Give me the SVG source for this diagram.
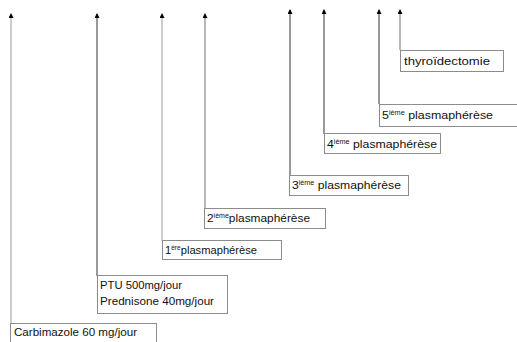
<svg xmlns="http://www.w3.org/2000/svg" width="517" height="342" viewBox="0 0 517 342">
<style>
.box{fill:#fff;stroke:#8c8c8c;stroke-width:1}
.t{font-family:"Liberation Sans",Arial,sans-serif;font-size:11px;fill:#111}
.s{font-size:6.5px}
.ln{stroke-width:1.2;fill:none}
</style>
<defs>
<marker id="ah" markerWidth="5" markerHeight="5" refX="4" refY="2.5" orient="auto" markerUnits="userSpaceOnUse" viewBox="0 0 5 5">
<path d="M0,0 L5,2.5 L0,5 Z" fill="#000"/>
</marker>
</defs>
<g id="connectors">
<line class="ln" x1="11" y1="342" x2="11" y2="14" stroke="#aaa" marker-end="url(#ah)"/>
<line class="ln" x1="97" y1="276" x2="97" y2="14" stroke="#555" marker-end="url(#ah)"/>
<line class="ln" x1="162" y1="241" x2="162" y2="14" stroke="#aaa" marker-end="url(#ah)"/>
<line class="ln" x1="205" y1="208" x2="205" y2="14" stroke="#888" marker-end="url(#ah)"/>
<line class="ln" x1="290" y1="175" x2="290" y2="10" stroke="#555" marker-end="url(#ah)"/>
<line class="ln" x1="324" y1="134" x2="324" y2="10" stroke="#555" marker-end="url(#ah)"/>
<line class="ln" x1="379" y1="104" x2="379" y2="10" stroke="#555" marker-end="url(#ah)"/>
<line class="ln" x1="400" y1="50" x2="400" y2="10" stroke="#888" marker-end="url(#ah)"/>
</g>
<g id="n1"><rect class="box" x="10.5" y="323.5" width="146" height="25"/><text class="t" x="14" y="336" textLength="123" lengthAdjust="spacingAndGlyphs">Carbimazole 60 mg/jour</text></g>
<g id="n2"><rect class="box" x="97.5" y="275.5" width="130" height="38"/><text class="t" x="100" y="289" textLength="82" lengthAdjust="spacingAndGlyphs">PTU 500mg/jour</text><text class="t" x="100" y="305" textLength="114" lengthAdjust="spacingAndGlyphs">Prednisone 40mg/jour</text></g>
<g id="n3"><rect class="box" x="162.5" y="240.5" width="119" height="19"/><text class="t" x="165" y="254" textLength="92" lengthAdjust="spacingAndGlyphs">1<tspan class="s" dy="-4">ère</tspan><tspan dy="4">plasmaphérèse</tspan></text></g>
<g id="n4"><rect class="box" x="204.5" y="208.5" width="121" height="20"/><text class="t" x="207" y="222" textLength="103" lengthAdjust="spacingAndGlyphs">2<tspan class="s" dy="-4">ième</tspan><tspan dy="4">plasmaphérèse</tspan></text></g>
<g id="n5"><rect class="box" x="289.5" y="175.5" width="119" height="20"/><text class="t" x="292" y="189" textLength="109" lengthAdjust="spacingAndGlyphs">3<tspan class="s" dy="-4">ième</tspan><tspan dy="4"> plasmaphérèse</tspan></text></g>
<g id="n6"><rect class="box" x="324.5" y="133.5" width="116" height="20"/><text class="t" x="327" y="148" textLength="110" lengthAdjust="spacingAndGlyphs">4<tspan class="s" dy="-4">ième</tspan><tspan dy="4"> plasmaphérèse</tspan></text></g>
<g id="n7"><rect class="box" x="379.5" y="104.5" width="145" height="22"/><text class="t" x="382" y="119" textLength="111" lengthAdjust="spacingAndGlyphs">5<tspan class="s" dy="-4">ième</tspan><tspan dy="4"> plasmaphérèse</tspan></text></g>
<g id="n8"><rect class="box" x="400.5" y="50.5" width="103" height="21"/><text class="t" x="404" y="65" textLength="86" lengthAdjust="spacingAndGlyphs">thyroïdectomie</text></g>
</svg>
